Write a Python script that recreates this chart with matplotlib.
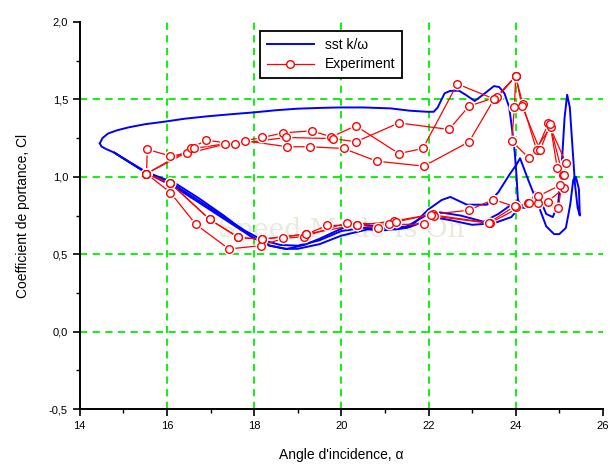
import matplotlib
matplotlib.use("Agg")
import matplotlib.pyplot as plt
from matplotlib.ticker import MultipleLocator, FuncFormatter

plt.rcParams['font.family'] = ['Liberation Sans', 'DejaVu Sans']

# --- data ---
# simulation, upper branch (shared by the cycles)
blue_up_x = [14.46, 14.52, 14.65, 14.85, 15.13, 15.5, 15.94, 16.4, 16.9, 17.5, 17.99, 18.5,
             18.99, 19.5, 19.96, 20.5, 21.13, 21.57, 21.97, 22.12, 22.21, 22.3, 22.37, 22.5,
             22.7, 22.85, 23.06, 23.25, 23.5, 23.62, 23.74, 23.85, 23.92, 23.98, 24.02, 24.05]
blue_up_y = [1.216, 1.25, 1.28, 1.30, 1.32, 1.34, 1.356, 1.375, 1.39, 1.405, 1.416, 1.43,
             1.44, 1.445, 1.448, 1.448, 1.442, 1.427, 1.42, 1.42, 1.448, 1.50, 1.54, 1.555,
             1.556, 1.53, 1.49, 1.53, 1.586, 1.58, 1.54, 1.45, 1.30, 1.15, 1.0, 0.85]
# simulation, stall + return branches
blue_ra_x = [24.05, 24.15, 24.3, 24.45, 24.55, 24.7, 24.85, 24.97, 25.05, 25.12, 25.18, 25.24,
             25.3, 25.36, 25.42, 25.47, 25.45, 25.38, 25.32, 25.25, 25.15, 25.0, 24.88, 24.7,
             24.5, 24.3, 24.1, 24.02, 23.87, 23.6, 23.34, 22.88, 22.5, 22.3, 22.0, 21.6, 21.25,
             20.76, 20.3, 20.2, 19.96, 19.5, 19.15, 18.75, 18.35, 17.95, 17.3, 16.74, 16.18,
             15.53, 14.95, 14.8, 14.6, 14.5, 14.46]
blue_ra_y = [0.85, 0.80, 0.80, 0.90, 0.86, 0.76, 0.74, 0.82, 1.05, 1.38, 1.53, 1.45,
             1.2, 0.95, 0.80, 0.75, 0.92, 1.0, 0.98, 0.82, 0.67, 0.63, 0.63, 0.68,
             0.83, 0.97, 1.12, 1.08, 1.02, 0.9, 0.82, 0.82, 0.87, 0.85, 0.79, 0.68, 0.66,
             0.68, 0.70, 0.69, 0.66, 0.60, 0.56, 0.534, 0.555, 0.61, 0.75, 0.86, 0.96,
             1.03, 1.128, 1.155, 1.18, 1.195, 1.216]
blue_rb_x = [24.05, 24.0, 23.95, 23.6, 23.26, 23.0, 22.73, 22.27, 22.0, 21.5, 21.0, 20.5,
             20.0, 19.5, 19.0, 18.6, 18.2, 17.8, 17.2, 16.6, 16.1, 15.5, 14.95, 14.8]
blue_rb_y = [0.85, 0.83, 0.83, 0.76, 0.71, 0.73, 0.75, 0.77, 0.76, 0.68, 0.665, 0.67,
             0.65, 0.59, 0.555, 0.56, 0.59, 0.65, 0.76, 0.87, 0.96, 1.03, 1.128, 1.155]
blue_rc_x = [24.02, 23.9, 23.5, 23.0, 22.5, 22.1, 21.8, 21.5, 21.0, 20.6, 20.0, 19.5,
             19.0, 18.7, 18.3, 17.9, 17.3, 16.7, 16.2, 15.5, 14.95, 14.8]
blue_rc_y = [0.78, 0.74, 0.70, 0.69, 0.72, 0.74, 0.70, 0.67, 0.655, 0.66, 0.62, 0.565,
             0.535, 0.535, 0.56, 0.62, 0.73, 0.84, 0.93, 1.03, 1.128, 1.155]

# experiment, three cycles
exp1_x = [15.53, 15.55, 16.08, 16.46, 17.34, 18.19, 18.67, 19.32, 19.77, 20.33, 21.32, 21.87,
          22.66, 23.53, 24.0, 24.16, 24.48, 24.75, 25.15, 25.1, 24.73, 24.0, 23.49, 22.92,
          22.11, 21.2, 20.35, 19.68, 19.2, 18.19, 17.64, 16.98, 16.08, 15.53]
exp1_y = [1.02, 1.177, 1.134, 1.151, 1.211, 1.254, 1.284, 1.297, 1.258, 1.329, 1.15, 1.183,
          1.6, 1.5, 1.65, 1.47, 1.172, 1.345, 1.09, 0.925, 0.838, 0.806, 0.853, 0.784,
          0.759, 0.714, 0.686, 0.686, 0.63, 0.597, 0.608, 0.725, 0.958, 1.02]
exp2_x = [15.53, 16.54, 16.9, 17.55, 18.73, 19.81, 20.33, 21.32, 22.47, 22.93, 23.58, 24.0,
          23.97, 23.91, 24.31, 24.8, 25.08, 24.98, 24.5, 24.29, 23.4, 22.12, 21.89, 21.09,
          20.12, 19.15, 18.67, 18.15, 17.42, 16.66, 16.08, 15.53]
exp2_y = [1.02, 1.183, 1.237, 1.211, 1.254, 1.247, 1.226, 1.348, 1.306, 1.457, 1.517, 1.65,
          1.453, 1.23, 1.119, 1.319, 1.01, 0.80, 0.83, 0.832, 0.70, 0.746, 0.693, 0.693,
          0.703, 0.614, 0.602, 0.555, 0.534, 0.693, 0.898, 1.02]
exp3_x = [15.53, 16.62, 17.79, 18.76, 19.28, 20.05, 20.81, 21.89, 22.93, 23.5, 24.0, 24.14,
          24.56, 24.79, 24.95, 25.11, 25.02, 24.5, 24.3, 23.98, 23.38, 22.05, 21.26, 20.85,
          20.35, 19.2, 18.19, 17.64, 16.98, 16.08, 15.53]
exp3_y = [1.02, 1.183, 1.233, 1.194, 1.194, 1.183, 1.101, 1.069, 1.226, 1.5, 1.65, 1.46,
          1.17, 1.34, 1.06, 1.01, 0.946, 0.873, 0.83, 0.81, 0.703, 0.756, 0.709, 0.672,
          0.69, 0.63, 0.597, 0.608, 0.725, 0.958, 1.02]

x_ticks = [14, 16, 18, 20, 22, 24, 26]
grid_x = [16, 18, 20, 22, 24]
grid_y = [0.0, 0.5, 1.0, 1.5]

fig = plt.figure(figsize=(6.09, 4.68), dpi=100)
ax = fig.add_axes([0.131, 0.126, 0.859, 0.827])
ax.set_xlim(14, 26)
ax.set_ylim(-0.5, 2.0)

# green dashed grid (inner lines only)
for gx in grid_x:
    ax.axvline(gx, color='#00ee00', lw=1.3, ls=(0, (4, 3)), zorder=1)
for gy in grid_y:
    ax.axhline(gy, color='#00ee00', lw=1.3, ls=(0, (4, 3)), zorder=1)

# faint watermark
ax.text(20.0, 0.66, 'Speed Mode Is On', family='DejaVu Serif', fontsize=19,
        color='#ebe8dc', ha='center', va='center', zorder=1.5)

blue = '#0000ff'
red = '#ff0000'
ax.plot(blue_up_x, blue_up_y, color=blue, lw=1.4, zorder=2, label='sst k/\u03c9')
for bx, by in [(blue_ra_x, blue_ra_y), (blue_rb_x, blue_rb_y), (blue_rc_x, blue_rc_y)]:
    ax.plot(bx, by, color=blue, lw=1.4, zorder=2)

first = True
for ex, ey in [(exp1_x, exp1_y), (exp2_x, exp2_y), (exp3_x, exp3_y)]:
    ax.plot(ex, ey, color=red, lw=0.9, zorder=3)
    ax.plot(ex, ey, ls='none', marker='o', ms=7.5, mfc='white', mec='white', zorder=3.5)
    ax.plot(ex, ey, ls='none', marker='o', ms=5.5, mfc='white', mec=red, mew=1.0, zorder=4)
    if first:
        ax.plot([], [], color=red, lw=0.9, marker='o', ms=5.5, mfc='white', mec=red,
                label='Experiment')
        first = False

# axes styling
for s in ['top', 'right']:
    ax.spines[s].set_visible(False)
for s in ['left', 'bottom']:
    ax.spines[s].set_linewidth(1.4)
ax.set_xticks(x_ticks)
ax.xaxis.set_minor_locator(MultipleLocator(1))
ax.yaxis.set_major_locator(MultipleLocator(0.5))
ax.yaxis.set_minor_locator(MultipleLocator(0.25))
ax.yaxis.set_major_formatter(FuncFormatter(lambda v, p: f"{v:.1f}".replace('.', ',')))
ax.tick_params(which='major', direction='out', length=5, width=1.2, labelsize=8)
ax.tick_params(which='minor', direction='out', length=3, width=1.0)

ax.set_xlabel("Angle d'incidence, \u03b1", fontsize=10, labelpad=12)
ax.set_ylabel("Coefficient de portance, Cl", fontsize=10, labelpad=14)

leg = ax.legend(loc='upper left', bbox_to_anchor=(0.344, 0.977), fontsize=10,
                frameon=True, fancybox=False, handlelength=3.4, borderpad=0.5,
                labelspacing=0.4, borderaxespad=0)
leg.get_frame().set_edgecolor('black')
leg.get_frame().set_linewidth(1.3)
leg.get_frame().set_alpha(1)

fig.savefig('out.png', dpi=100)
